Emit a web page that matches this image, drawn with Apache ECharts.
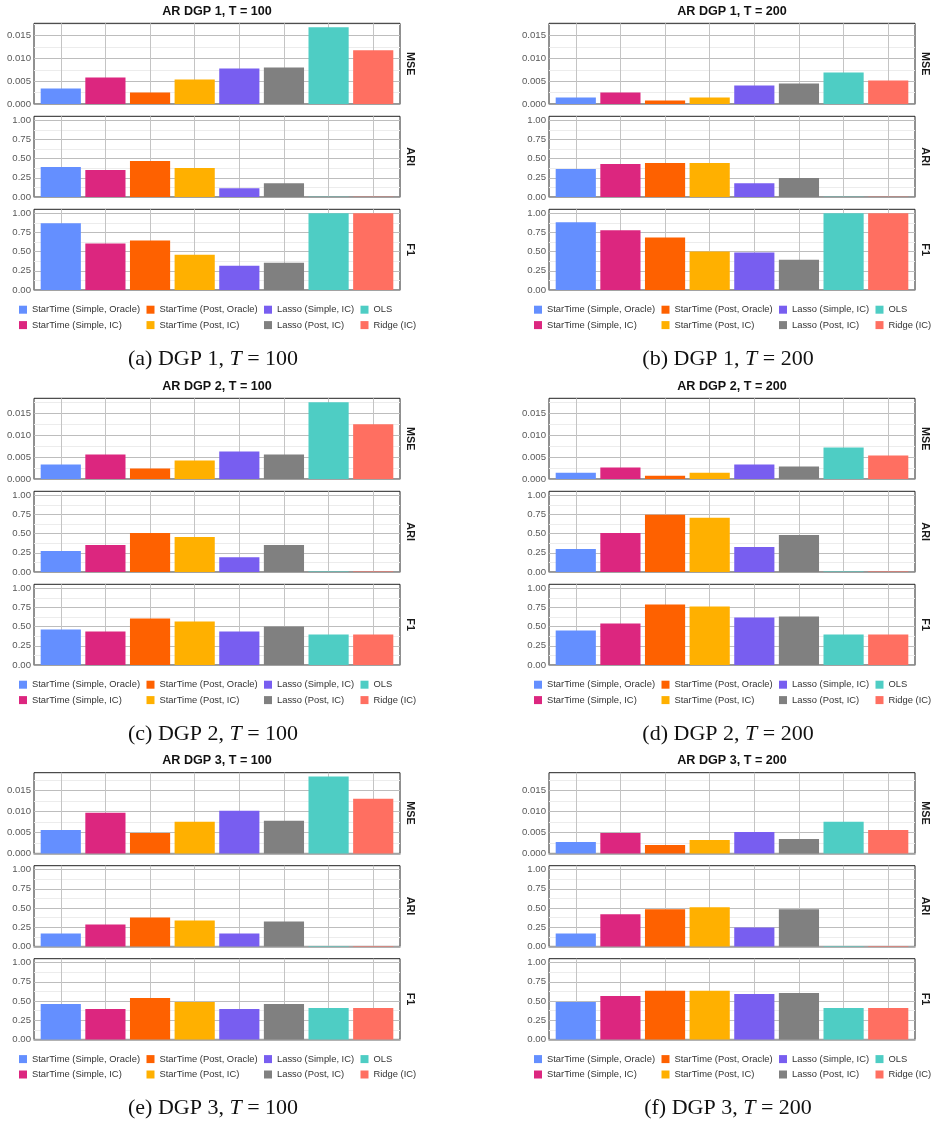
<!DOCTYPE html>
<html>
<head>
<meta charset="utf-8">
<script src="https://cdn.jsdelivr.net/npm/echarts@6/dist/echarts.min.js"></script>
<style>
  html, body { margin: 0; padding: 0; background: #fff; }
  #chart { width: 938px; height: 1128px; }
</style>
</head>
<body>
<div id="chart"></div>
<script>
// methods, in bar order
const methods = [
  "StarTime (Simple, Oracle)", "StarTime (Simple, IC)",
  "StarTime (Post, Oracle)", "StarTime (Post, IC)",
  "Lasso (Simple, IC)", "Lasso (Post, IC)",
  "OLS", "Ridge (IC)"
];
const methodColors = ["#648FFF", "#DC267F", "#FE6100", "#FFB000", "#785EF0", "#808080", "#4ECDC4", "#FF6F61"];

// tick values
const mseTicks = [0, 0.005, 0.01, 0.015];
const mseMinorTicks = [0.0025, 0.0075, 0.0125, 0.0175];
const rateTicks = [0, 0.25, 0.5, 0.75, 1];
const rateMinorTicks = [0.125, 0.375, 0.625, 0.875];

// DGP 1
const dgp1_t100_mse = [0.00338, 0.00581, 0.0025, 0.00537, 0.00779, 0.00801, 0.01684, 0.01176];
const dgp1_t100_ari = [0.390, 0.351, 0.469, 0.377, 0.114, 0.180, 0.004, 0.004];
const dgp1_t100_f1  = [0.868, 0.605, 0.645, 0.460, 0.316, 0.355, 1.0, 1.0];
const dgp1_t200_mse = [0.0014, 0.0025, 0.00074, 0.0014, 0.00404, 0.00449, 0.00691, 0.00515];
const dgp1_t200_ari = [0.364, 0.430, 0.443, 0.443, 0.180, 0.246, 0.004, 0.004];
const dgp1_t200_f1  = [0.882, 0.776, 0.684, 0.500, 0.487, 0.395, 1.0, 1.0];
// DGP 2
const dgp2_t100_mse = [0.00331, 0.00562, 0.00238, 0.00423, 0.00631, 0.00562, 0.01762, 0.01254];
const dgp2_t100_ari = [0.272, 0.351, 0.509, 0.456, 0.193, 0.351, 0.005, 0.005];
const dgp2_t100_f1  = [0.463, 0.437, 0.606, 0.567, 0.437, 0.502, 0.398, 0.398];
const dgp2_t200_mse = [0.00146, 0.00262, 0.00077, 0.00146, 0.00331, 0.00285, 0.00723, 0.00538];
const dgp2_t200_ari = [0.298, 0.509, 0.746, 0.706, 0.325, 0.482, 0.005, 0.005];
const dgp2_t200_f1  = [0.450, 0.541, 0.788, 0.762, 0.619, 0.632, 0.398, 0.398];
// DGP 3
const dgp3_t100_mse = [0.00559, 0.00965, 0.00487, 0.0075, 0.01013, 0.00774, 0.01827, 0.013];
const dgp3_t100_ari = [0.167, 0.285, 0.377, 0.338, 0.167, 0.325, 0.005, 0.005];
const dgp3_t100_f1  = [0.460, 0.395, 0.540, 0.487, 0.395, 0.460, 0.408, 0.408];
const dgp3_t200_mse = [0.00271, 0.00487, 0.002, 0.00319, 0.00511, 0.00343, 0.0075, 0.00559];
const dgp3_t200_ari = [0.167, 0.417, 0.482, 0.509, 0.246, 0.482, 0.005, 0.005];
const dgp3_t200_f1  = [0.487, 0.566, 0.632, 0.632, 0.592, 0.605, 0.408, 0.408];

const panels = [
  { tag: "(a)", dgp: 1, T: 100, mse: dgp1_t100_mse, ari: dgp1_t100_ari, f1: dgp1_t100_f1 },
  { tag: "(b)", dgp: 1, T: 200, mse: dgp1_t200_mse, ari: dgp1_t200_ari, f1: dgp1_t200_f1 },
  { tag: "(c)", dgp: 2, T: 100, mse: dgp2_t100_mse, ari: dgp2_t100_ari, f1: dgp2_t100_f1 },
  { tag: "(d)", dgp: 2, T: 200, mse: dgp2_t200_mse, ari: dgp2_t200_ari, f1: dgp2_t200_f1 },
  { tag: "(e)", dgp: 3, T: 100, mse: dgp3_t100_mse, ari: dgp3_t100_ari, f1: dgp3_t100_f1 },
  { tag: "(f)", dgp: 3, T: 200, mse: dgp3_t200_mse, ari: dgp3_t200_ari, f1: dgp3_t200_f1 },
];
const metrics = ["MSE", "ARI", "F1"];

const SANS = '"Liberation Sans", Arial, sans-serif';
const SERIF = '"Liberation Serif", "Times New Roman", serif';

// layout
const colLeft = [34, 549];
const rowTop = [23.3, 398.3, 772.7];
const plotW = 366;
const facetH = 80.7;
const facetStep = 93;
const barW = plotW / 8.2 * 0.9;
const legendX = [-15, 112.5, 230, 326.5];

const grids = [], xAxes = [], yAxes = [], series = [], legends = [], graphics = [];

panels.forEach((p, pi) => {
  const col = pi % 2, row = Math.floor(pi / 2);
  const left = colLeft[col], top0 = rowTop[row];
  const pair = [panels[row * 2], panels[row * 2 + 1]];
  const mseMax = 1.05 * Math.max(...pair[0].mse, ...pair[1].mse);

  [p.mse, p.ari, p.f1].forEach((vals, mi) => {
    const gi = grids.length;
    const isMse = mi === 0;
    const yMax = isMse ? mseMax : 1.05;
    const major = isMse ? mseTicks : rateTicks;
    const minor = isMse ? mseMinorTicks : rateMinorTicks;

    grids.push({
      left: left, top: top0 + mi * facetStep, width: plotW, height: facetH,
      containLabel: false, outerBoundsMode: "none",
      show: true, borderColor: "#222", borderWidth: 1, backgroundColor: "transparent"
    });
    xAxes.push({
      gridIndex: gi, type: "value", min: -0.6, max: 7.6,
      axisLabel: { show: false },
      axisTick: { show: false, customValues: [0, 1, 2, 3, 4, 5, 6, 7] },
      axisLine: { show: true, onZero: false, lineStyle: { color: "#999", width: 1.5 } },
      splitLine: { show: true, lineStyle: { color: "#c4c4c4", width: 1 } }
    });
    // major lines + labels
    yAxes.push({
      gridIndex: gi, type: "value", min: 0, max: yMax,
      axisLine: { show: false },
      axisTick: { show: false, customValues: major },
      axisLabel: {
        customValues: major, fontSize: 9.6, color: "#595959", fontFamily: SANS, margin: 3,
        formatter: v => v.toFixed(isMse ? 3 : 2)
      },
      splitLine: { show: true, lineStyle: { color: "#bdbdbd", width: 1 } }
    });
    // minor lines
    yAxes.push({
      gridIndex: gi, type: "value", min: 0, max: yMax,
      axisLine: { show: false },
      axisTick: { show: false, customValues: minor },
      axisLabel: { show: false },
      splitLine: { show: true, lineStyle: { color: "#ececec", width: 1 } }
    });

    methods.forEach((m, k) => {
      series.push({
        type: "bar", name: m,
        xAxisIndex: gi, yAxisIndex: gi * 2,
        barWidth: barW, barGap: "-100%",
        data: [[k, vals[k]]],
        itemStyle: { color: methodColors[k] },
        emphasis: { disabled: true },
        z: 3
      });
    });

    // strip label
    graphics.push({
      type: "text", x: left + plotW + 9.5, y: top0 + mi * facetStep + facetH / 2,
      rotation: -Math.PI / 2,
      style: {
        text: metrics[mi], fill: "#1a1a1a",
        font: 'bold 10.8px "Liberation Sans", Arial, sans-serif',
        align: "center", verticalAlign: "middle"
      }
    });
  });

  // panel title
  graphics.push({
    type: "text", x: left + plotW / 2, y: top0 - 11.7,
    style: {
      text: "AR DGP " + p.dgp + ", T = " + p.T, fill: "#111",
      font: 'bold 12.6px "Liberation Sans", Arial, sans-serif',
      align: "center", verticalAlign: "middle"
    }
  });

  // caption
  graphics.push({
    type: "text", x: left + plotW / 2 - 4, y: top0 + 336,
    style: {
      text: p.tag + " DGP " + p.dgp + ", {i|T} = " + p.T,
      fill: "#111", font: '22px "Liberation Serif", "Times New Roman", serif',
      align: "center", verticalAlign: "middle",
      rich: { i: { fontStyle: "italic", fontSize: 22, fontFamily: SERIF, fill: "#111" } }
    }
  });

  // legend, 4 columns of 2
  for (let c = 0; c < 4; c++) {
    legends.push({
      data: [methods[2 * c], methods[2 * c + 1]],
      orient: "vertical",
      left: left + legendX[c], top: top0 + 286.4 - 5,
      padding: 0, itemGap: 5.4, itemWidth: 8, itemHeight: 8, icon: "rect",
      selectedMode: false,
      textStyle: { fontSize: 9.4, color: "#333", fontFamily: SANS, lineHeight: 10 }
    });
  }
});

const chart = echarts.init(document.getElementById("chart"), null, { renderer: "canvas" });
chart.setOption({
  animation: false,
  backgroundColor: "#fff",
  textStyle: { fontFamily: SANS },
  grid: grids,
  xAxis: xAxes,
  yAxis: yAxes,
  legend: legends,
  series: series,
  graphic: graphics
});
</script>
</body>
</html>
